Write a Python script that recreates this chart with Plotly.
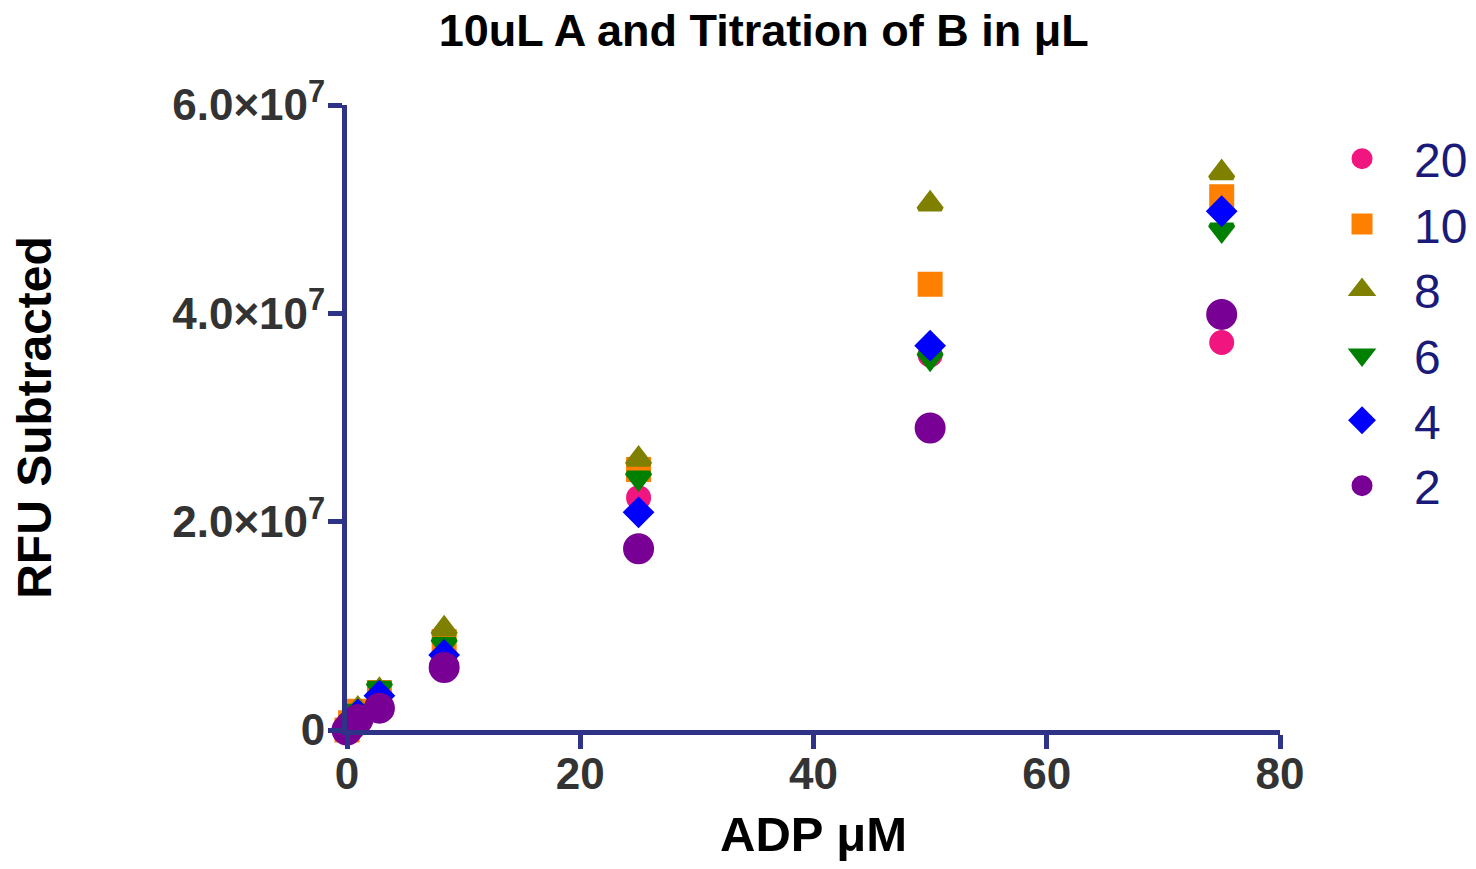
import plotly.graph_objects as go

# ADP concentration (uM)
adp_um = [0, 0.31, 0.93, 2.78, 8.33, 25, 50, 75]

# RFU subtracted for each volume of B (uL)
rfu_20 = [0, 0.06e7, 0.16e7, 0.34e7, 0.70e7, 2.23e7, 3.60e7, 3.72e7]
rfu_10 = [0, 0.07e7, 0.18e7, 0.36e7, 0.85e7, 2.50e7, 4.28e7, 5.12e7]
rfu_8 = [0, 0.08e7, 0.20e7, 0.38e7, 0.97e7, 2.60e7, 5.05e7, 5.35e7]
rfu_6 = [0, 0.07e7, 0.18e7, 0.40e7, 0.82e7, 2.42e7, 3.57e7, 4.80e7]
rfu_4 = [0, 0.06e7, 0.15e7, 0.33e7, 0.72e7, 2.09e7, 3.69e7, 4.98e7]
rfu_2 = [0, 0.04e7, 0.10e7, 0.21e7, 0.60e7, 1.74e7, 2.90e7, 3.99e7]

series_names = ["20", "10", "8", "6", "4", "2"]
series_values = [rfu_20, rfu_10, rfu_8, rfu_6, rfu_4, rfu_2]

y_tickvals = [0, 2e7, 4e7, 6e7]
y_ticktext = ["0", "2.0×10<sup>7</sup>", "4.0×10<sup>7</sup>", "6.0×10<sup>7</sup>"]
x_tickvals = [0, 20, 40, 60, 80]

# marker look per series
styles = {
    "20": dict(symbol="circle", color="#F0157F", size=20),
    "10": dict(symbol="square", color="#FF8000", size=20),
    "8": dict(symbol="triangle-up", color="#808000", size=20),
    "6": dict(symbol="triangle-down", color="#008000", size=20),
    "4": dict(symbol="diamond", color="#0000FF", size=19),
    "2": dict(symbol="circle", color="#780094", size=26),
}

axis_color = "#2E3388"
font = "Liberation Sans, Arial, sans-serif"

fig = go.Figure()
for name, vals in zip(series_names, series_values):
    st = styles[name]
    fig.add_trace(go.Scatter(
        x=adp_um, y=vals, mode="markers", name=name, cliponaxis=False,
        marker=dict(symbol=st["symbol"], color=st["color"], size=st["size"],
                    line=dict(color=st["color"], width=5)),
    ))

# page body adds an 8px margin, so the figure is a bit smaller than the window
fig.update_layout(
    width=1460, height=853,
    plot_bgcolor="white", paper_bgcolor="white",
    margin=dict(l=339, r=188, t=97, b=131),
    title=dict(text="<b>10uL A and Titration of B in μL</b>", x=0.5176, xanchor="center",
               y=0.9735, yanchor="middle",
               font=dict(family=font, size=45, color="black")),
    legend=dict(xref="container", x=0.8918, xanchor="left", y=0.9744, yanchor="top",
                itemwidth=94,
                font=dict(family=font, size=48, color="#1A1A7A"),
                bgcolor="rgba(0,0,0,0)"),
    font=dict(family=font),
)

fig.update_xaxes(
    range=[0, 80], tickvals=x_tickvals, automargin=False,
    showgrid=False, zeroline=False,
    showline=True, linecolor=axis_color, linewidth=5,
    ticks="outside", ticklen=14, tickwidth=5, tickcolor=axis_color,
    ticklabelstandoff=-13,
    tickfont=dict(family=font, size=44, color="#333333", weight="bold"),
    title=dict(text="<b>ADP μM</b>", font=dict(family=font, size=49, color="black"), standoff=33),
)
fig.update_yaxes(
    range=[0, 6e7], tickvals=y_tickvals, ticktext=y_ticktext, automargin=False,
    showgrid=False, zeroline=False,
    showline=True, linecolor=axis_color, linewidth=5,
    ticks="outside", ticklen=14, tickwidth=5, tickcolor=axis_color,
    ticklabelstandoff=-6,
    tickfont=dict(family=font, size=44, color="#333333", weight="bold"),
    title=dict(text="<b>RFU Subtracted</b>", font=dict(family=font, size=48, color="black"), standoff=116),
)

fig.write_html("out.html")
